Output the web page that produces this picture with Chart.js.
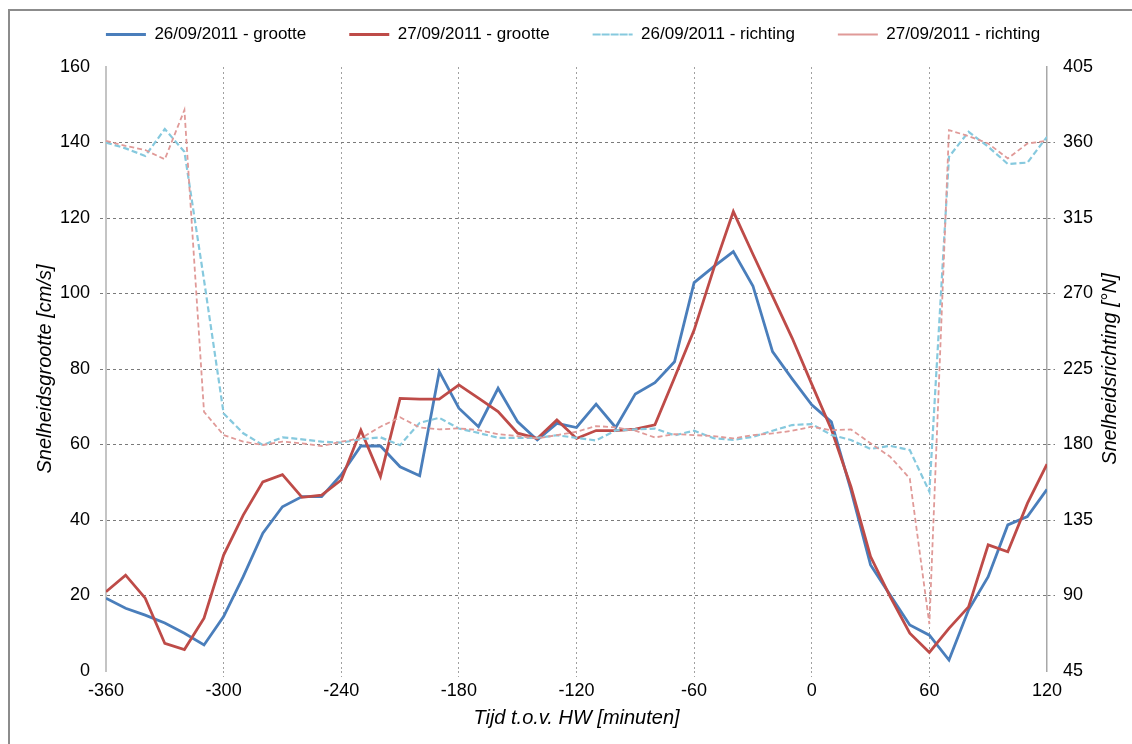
<!DOCTYPE html>
<html>
<head>
<meta charset="utf-8">
<script src="https://cdn.jsdelivr.net/npm/chart.js@4"></script>
<style>
  html, body { margin: 0; padding: 0; background: #fff; overflow: hidden; }
  #wrap { position: relative; width: 1132px; height: 744px; }
  #frame { position: absolute; left: 8px; top: 9px; width: 1140px; height: 760px; border: 2px solid #8c8c8c; pointer-events: none; }
</style>
</head>
<body>
<div id="wrap">
  <canvas id="chart" width="1132" height="744"></canvas>
  <div id="frame"></div>
</div>
<script>
const times = [-360, -350, -340, -330, -320, -310, -300, -290, -280, -270, -260, -250, -240, -230, -220, -210, -200, -190, -180, -170, -160, -150, -140, -130, -120, -110, -100, -90, -80, -70, -60, -50, -40, -30, -20, -10, 0, 10, 20, 30, 40, 50, 60, 70, 80, 90, 100, 110, 120];

// snelheidsgrootte [cm/s]
const grootte26 = [19.3, 16.6, 14.8, 12.7, 10, 6.9, 14.4, 25, 36.5, 43.5, 46.2, 46.2, 52, 59.6, 59.6, 54.1, 51.7, 79.3, 69.6, 64.7, 74.9, 66, 61.2, 65.6, 64.5, 70.7, 64.5, 73.4, 76.4, 81.9, 102.9, 107.1, 111.1, 102, 84.6, 77.4, 70.5, 66, 47.9, 28.1, 20.1, 12.2, 9.5, 2.9, 16.2, 25, 38.7, 40.9, 48.1];
const grootte27 = [21, 25.4, 19.3, 7.3, 5.7, 14, 30.7, 41.3, 50.1, 52, 46, 46.6, 50.6, 63.8, 51.5, 72.2, 72, 72, 75.8, 72.3, 68.7, 63, 61.6, 66.5, 61.6, 63.7, 63.7, 64.1, 65.2, 77.7, 90.3, 106.6, 121.7, 110.4, 99.3, 88.2, 76, 64, 48.8, 30.3, 19.7, 10, 4.9, 11.3, 17, 33.4, 31.6, 44.4, 54.8];

// snelheidsrichting [°N]
const richting26 = [360, 356.5, 352, 368, 354.5, 278, 198.5, 186.7, 179.7, 184.3, 183.1, 181.7, 181.1, 183.1, 184.3, 179.6, 192.9, 195.9, 189.5, 186.9, 184, 184, 184, 185.5, 184, 182.4, 188.4, 189, 189.5, 185.5, 188.2, 183.7, 182.7, 184.6, 188.2, 191.6, 192.2, 185.7, 182.7, 177.4, 179.2, 176.7, 151.9, 351.5, 366.4, 357.5, 347.2, 348, 363.4];
const richting27 = [361, 358, 355.5, 350, 379.4, 199.5, 185.6, 181.7, 179.7, 181.7, 180.7, 179.1, 181.7, 183.7, 190.6, 196.2, 190.2, 189, 189.6, 188.6, 186.2, 185, 183.6, 185.6, 187.6, 191, 190.2, 188.2, 184.2, 186.2, 185.6, 185, 183.6, 185.6, 186.6, 188.2, 190.6, 188.5, 189, 180.7, 172.7, 159.8, 73, 367.4, 363.8, 359.4, 350.5, 359.4, 361];

const seriesLabels = ['26/09/2011 - grootte', '27/09/2011 - grootte', '26/09/2011 - richting', '27/09/2011 - richting'];
const xTitle = 'Tijd t.o.v. HW [minuten]';
const yLeftTitle = 'Snelheidsgrootte [cm/s]';
const yRightTitle = 'Snelheidsrichting [°N]';

const pts = (vals) => times.map((t, i) => ({ x: t, y: vals[i] }));
const FONT = '"Liberation Sans", Arial, sans-serif';

// legend box: fixed height, nudged up/right to sit like the original
const fixLegend = {
  id: 'fixLegend',
  beforeInit(chart) {
    const fit = chart.legend.fit;
    chart.legend.fit = function () {
      fit.bind(chart.legend)();
      this.height = 67;
    };
  },
  beforeDraw(chart) {
    const lg = chart.legend;
    lg.top = -17;
    lg.left = 7;
    lg.right = 1139;
  }
};

const rightTitle = {
  id: 'rightTitle',
  afterDraw(chart) {
    const { ctx, chartArea } = chart;
    ctx.save();
    ctx.translate(1110, (chartArea.top + chartArea.bottom) / 2);
    ctx.rotate(-Math.PI / 2);
    ctx.font = 'italic 20px ' + FONT;
    ctx.fillStyle = '#000';
    ctx.textAlign = 'center';
    ctx.textBaseline = 'middle';
    ctx.fillText(yRightTitle, 0, 0);
    ctx.restore();
  }
};

new Chart(document.getElementById('chart'), {
  type: 'line',
  data: {
    datasets: [
      { label: seriesLabels[0], data: pts(grootte26), yAxisID: 'y', borderColor: '#4a7ebb', backgroundColor: '#4a7ebb', borderWidth: 2.8, order: 4 },
      { label: seriesLabels[1], data: pts(grootte27), yAxisID: 'y', borderColor: '#be4b48', backgroundColor: '#be4b48', borderWidth: 2.8, order: 3 },
      { label: seriesLabels[2], data: pts(richting26), yAxisID: 'y2', borderColor: '#86c9de', backgroundColor: '#86c9de', borderWidth: 2.2, borderDash: [6, 3], order: 2 },
      { label: seriesLabels[3], data: pts(richting27), yAxisID: 'y2', borderColor: '#e09a98', backgroundColor: '#e09a98', borderWidth: 1.8, borderDash: [5, 3], order: 1 }
    ]
  },
  options: {
    responsive: false,
    animation: false,
    events: [],
    layout: { padding: 0 },
    elements: { point: { radius: 0 }, line: { tension: 0 } },
    plugins: {
      tooltip: { enabled: false },
      legend: {
        position: 'top',
        labels: {
          boxWidth: 40,
          boxHeight: 0,
          padding: 43,
          color: '#000',
          font: { family: FONT, size: 17 },
          sort: (a, b) => a.datasetIndex - b.datasetIndex
        }
      }
    },
    scales: {
      x: {
        type: 'linear',
        min: -360,
        max: 120,
        afterFit: (s) => { s.height = 73; },
        ticks: { stepSize: 60, color: '#000', padding: 3, font: { family: FONT, size: 18 } },
        grid: {
          color: (c) => (c.tick && (c.tick.value === -360 || c.tick.value === 120)) ? 'rgba(0,0,0,0)' : '#a0a0a0',
          lineWidth: 1,
          tickLength: 6,
          tickBorderDash: [2, 3]
        },
        border: { display: false, dash: [2, 3] },
        title: { display: true, text: xTitle, color: '#000', padding: { top: 0, bottom: 14 }, font: { family: FONT, size: 20, style: 'italic' } }
      },
      y: {
        position: 'left',
        min: 0,
        max: 160,
        afterFit: (s) => { s.width = 106; },
        ticks: { stepSize: 20, color: '#000', padding: 10, font: { family: FONT, size: 18 } },
        grid: {
          color: (c) => (c.tick && (c.tick.value === 0 || c.tick.value === 160)) ? 'rgba(0,0,0,0)' : '#7a7a7a',
          lineWidth: 1,
          tickLength: 6,
          tickBorderDash: [3, 3]
        },
        border: { display: true, color: '#c4c4c4', width: 2, dash: [3, 3] },
        title: { display: true, text: yLeftTitle, color: '#000', padding: { top: 33, bottom: 0 }, font: { family: FONT, size: 20, style: 'italic' } }
      },
      y2: {
        position: 'right',
        min: 45,
        max: 405,
        afterFit: (s) => { s.width = 85; },
        ticks: { stepSize: 45, color: '#000', padding: 8, font: { family: FONT, size: 18 } },
        grid: {
          drawOnChartArea: false,
          color: (c) => (c.tick && (c.tick.value === 45 || c.tick.value === 405)) ? 'rgba(0,0,0,0)' : '#7a7a7a',
          tickLength: 8,
          tickBorderDash: [3, 3]
        },
        border: { display: true, color: '#a8a8a8', width: 1.5 }
      }
    }
  },
  plugins: [fixLegend, rightTitle]
});
</script>
</body>
</html>
